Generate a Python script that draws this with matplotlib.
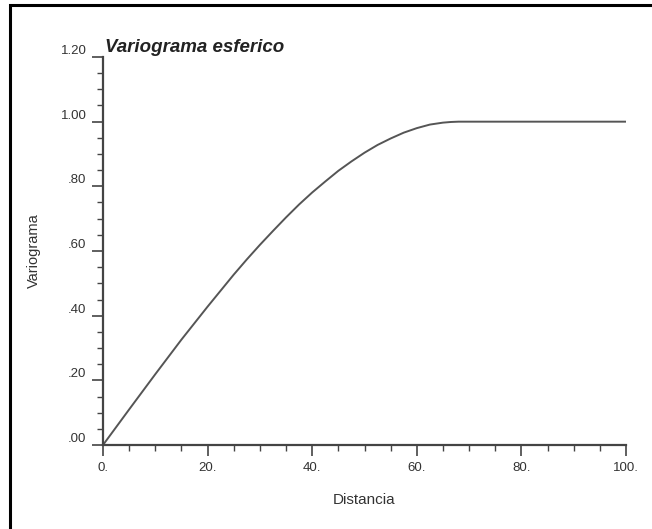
"""Spherical variogram chart."""
import numpy as np
import matplotlib.pyplot as plt
from matplotlib.patches import Rectangle
from matplotlib.ticker import MultipleLocator

# values
distancia = [0, 5, 10, 15, 20, 25, 27.5, 30, 32.5, 35, 37.5, 40, 42.5, 45, 47.5, 50,
             52.5, 55, 57.5, 60, 62.5, 65, 66.5, 68, 70, 80, 90, 100]
variograma = [0.0, 0.110, 0.219, 0.326, 0.428, 0.527, 0.574, 0.619, 0.662, 0.704, 0.744,
              0.781, 0.815, 0.848, 0.877, 0.904, 0.928, 0.948, 0.966, 0.980, 0.991,
              0.997, 0.999, 1.0, 1.0, 1.0, 1.0, 1.0]
x_ticks = [0, 20, 40, 60, 80, 100]
x_labels = ["0.", "20.", "40.", "60.", "80.", "100."]
y_ticks = [0.0, 0.2, 0.4, 0.6, 0.8, 1.0, 1.2]
y_labels = [".00", ".20", ".40", ".60", ".80", "1.00", "1.20"]

plt.rcParams['font.family'] = ['Liberation Sans', 'DejaVu Sans']
W, H = 652, 529
fig = plt.figure(figsize=(W / 100, H / 100), dpi=100)
ax = fig.add_axes([103 / W, 1 - 445 / H, 523 / W, 388 / H])

ax.plot(distancia, variograma, color="#555555", lw=1.4, solid_joinstyle="round")
ax.set_xlim(0, 100); ax.set_ylim(0, 1.2)

for s in ("top", "right"):
    ax.spines[s].set_visible(False)
for s in ("left", "bottom"):
    ax.spines[s].set_color("#444444"); ax.spines[s].set_linewidth(1.6)

ax.set_xticks(x_ticks); ax.set_xticklabels(x_labels)
ax.set_yticks(y_ticks); ax.set_yticklabels(y_labels)
ax.xaxis.set_minor_locator(MultipleLocator(5))
ax.yaxis.set_minor_locator(MultipleLocator(0.05))
ax.tick_params(which="major", direction="out", length=8, width=1.2, color="#444444",
               labelsize=9.5, labelcolor="#333333")
ax.tick_params(which="minor", direction="out", length=4.5, width=1.0, color="#444444")
ax.tick_params(axis="x", pad=4)
ax.tick_params(axis="y", pad=4)
for lab in ax.get_yticklabels():
    lab.set_verticalalignment("bottom")

ax.set_xlabel("Distancia", fontsize=11, color="#333333", labelpad=14)
ax.set_ylabel("Variograma", fontsize=10.5, color="#333333", labelpad=14)

fig.text(105 / W, 1 - 52 / H, "Variograma esferico", fontsize=13.5, fontweight="bold",
         fontstyle="italic", color="#222222", ha="left", va="baseline")

# outer frame (cut off at right and bottom in the reference)
fig.patches.append(Rectangle((10 / W, -0.2), 1.2, 1.2 - 5 / H, transform=fig.transFigure,
                             fill=False, lw=2.2, ec="black"))

fig.savefig("out.png", dpi=100, facecolor="white")
